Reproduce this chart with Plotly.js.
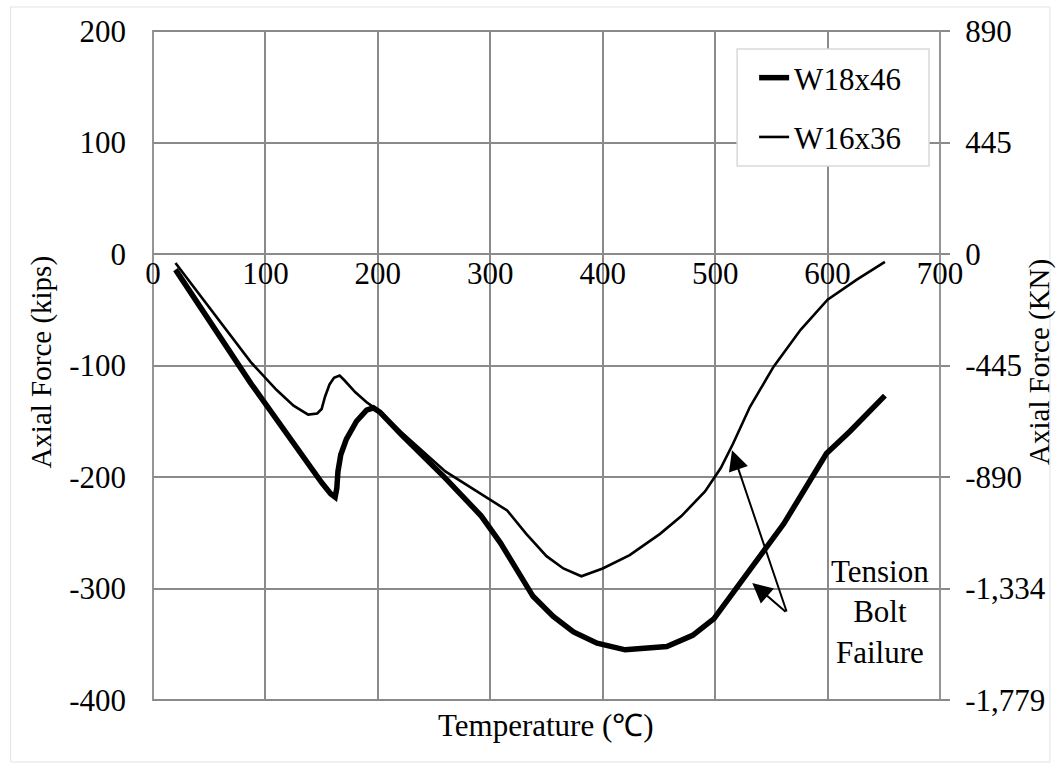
<!DOCTYPE html>
<html>
<head>
<meta charset="utf-8">
<script src="https://cdn.plot.ly/plotly-3.0.1.min.js"></script>
<style>
html,body{margin:0;padding:0;background:#fff;}
#chart{width:1059px;height:771px;}
</style>
</head>
<body>
<div id="chart"></div>
<script>
// ---- data ----
const seriesNames = ["W18x46", "W16x36"];

const w18Temp = [20, 87, 150, 158, 162, 163.5, 164.5, 167, 172, 181, 190, 196, 202, 220, 260, 292, 309, 338, 356, 374, 395, 420, 457, 480, 499, 525, 561, 599, 620, 651];
const w18Force = [-14, -116, -205, -215, -218, -210, -195, -180, -166, -150, -140, -138, -142, -161, -201, -235, -259, -307, -325, -339, -349, -355, -352, -342, -327, -292, -242, -179, -159, -127];

const w16Temp = [20, 87, 110, 125, 138, 146, 150, 153, 157, 161, 166, 170, 180, 190, 200, 220, 260, 300, 315, 332, 350, 365, 381, 400, 424, 451, 470, 491, 505, 516, 531, 552, 576, 600, 626, 651];
const w16Force = [-8, -97, -122, -136, -144, -143, -139, -128, -117, -111, -109, -113, -124, -133, -140, -159, -195, -221, -230, -251, -271, -282, -289, -282, -270, -251, -235, -213, -192, -170, -137, -101, -68, -41, -23, -7];

const xTicks = [0, 100, 200, 300, 400, 500, 600, 700];
const xTickText = ["0", "100", "200", "300", "400", "500", "600", "700"];
const yTicks = [200, 100, 0, -100, -200, -300, -400];
const yTickText = ["200", "100", "0", "-100", "-200", "-300", "-400"];
const kipToKN = 4.44822;
const kNTickText = ["890", "445", "0", "-445", "-890", "-1,334", "-1,779"];

const noteText = "Tension<br>Bolt<br>Failure";
const noteAnchor = [647, -321];
const arrowTail = [564, -322];
const arrowHeads = [[515, -176], [533, -295]];

// ---- layout helpers ----
const FONT = "Liberation Serif";
const FS = 31;
const gridColor = "#8a8a8a";
const W = 1059, H = 771;
const mL = 152.5, mR = 119, mT = 31, mB = 71;
const pw = W - mL - mR, ph = H - mT - mB;
const px2paperX = p => (p - mL) / pw;
const px2paperY = p => (H - mB - p) / ph;
const txtFont = {family: FONT, size: FS, color: "#000"};
const vFont = {family: FONT, size: 29, color: "#000"};

const traces = [
  {x: w18Temp, y: w18Force, name: seriesNames[0], mode: "lines", type: "scatter",
   line: {color: "#000", width: 5.5}, legendgroup: "a", hoverinfo: "skip"},
  {x: w16Temp, y: w16Force, name: seriesNames[1], mode: "lines", type: "scatter",
   line: {color: "#000", width: 2.6}, legendgroup: "b", hoverinfo: "skip"},
  {x: [xTicks[0]], y: [yTicks[2] * kipToKN], yaxis: "y2", mode: "markers", type: "scatter",
   marker: {opacity: 0}, showlegend: false, hoverinfo: "skip"}
];

const annotations = [
  {text: noteText, x: noteAnchor[0], y: noteAnchor[1], xref: "x", yref: "y",
   xanchor: "center", yanchor: "middle",
   showarrow: false, font: txtFont, align: "center"},
  {text: "Temperature (℃)", xref: "paper", yref: "paper", x: px2paperX(546), y: px2paperY(725),
   xanchor: "center", yanchor: "middle",
   showarrow: false, font: txtFont},
  {text: "Axial Force (kips)", xref: "paper", yref: "paper", x: px2paperX(41), y: px2paperY(362),
   xanchor: "center", yanchor: "middle",
   textangle: -90, showarrow: false, font: vFont},
  {text: "Axial Force (KN)", xref: "paper", yref: "paper", x: px2paperX(1040), y: px2paperY(362),
   xanchor: "center", yanchor: "middle",
   textangle: -90, showarrow: false, font: vFont}
];
arrowHeads.forEach(h => annotations.push({
  text: "", x: h[0], y: h[1], xref: "x", yref: "y",
  ax: arrowTail[0], ay: arrowTail[1], axref: "x", ayref: "y",
  showarrow: true, arrowhead: 2, arrowsize: 2, arrowwidth: 2, arrowcolor: "#000"
}));

const layout = {
  width: W, height: H,
  margin: {l: mL, r: mR, t: mT, b: mB, pad: 0},
  paper_bgcolor: "#fff", plot_bgcolor: "#fff",
  font: txtFont,
  showlegend: true,
  legend: {x: px2paperX(754), y: px2paperY(51), xanchor: "left", yanchor: "top",
           bgcolor: "rgba(0,0,0,0)", borderwidth: 0,
           font: txtFont,
           tracegroupgap: 16, traceorder: "grouped"},
  xaxis: {range: [0, 700], tickvals: xTicks, ticktext: xTickText,
          anchor: "free", position: (0 - (-400)) / 600,
          showgrid: true, gridcolor: gridColor, gridwidth: 1.8,
          zeroline: false, showline: false, ticks: "", ticklabelstandoff: -2,
          tickfont: txtFont, fixedrange: true},
  yaxis: {range: [-400, 200], tickvals: yTicks, ticktext: yTickText,
          showgrid: true, gridcolor: gridColor, gridwidth: 1.8,
          zeroline: false, showline: false, ticks: "", ticklabelstandoff: 26,
          tickfont: txtFont, fixedrange: true},
  yaxis2: {overlaying: "y", side: "right", anchor: "x",
           range: [-400 * kipToKN, 200 * kipToKN],
           tickvals: yTicks.map(v => v * kipToKN), ticktext: kNTickText,
           showgrid: false, zeroline: false, showline: false,
           ticks: "outside", ticklen: 9, tickwidth: 1.8, tickcolor: gridColor,
           ticklabelstandoff: 9,
           tickfont: txtFont, fixedrange: true},
  shapes: [
    {type: "rect", xref: "paper", yref: "paper", x0: 0, x1: 1, y0: 0, y1: 1,
     line: {color: gridColor, width: 1.8}, layer: "below"},
    {type: "rect", xref: "paper", yref: "paper",
     x0: px2paperX(10), x1: px2paperX(1050), y0: px2paperY(762), y1: px2paperY(7),
     line: {color: "#e3e3e3", width: 1}, layer: "below"},
    {type: "rect", xref: "paper", yref: "paper",
     x0: px2paperX(737), x1: px2paperX(929), y0: px2paperY(166), y1: px2paperY(49),
     fillcolor: "#fff", line: {color: "#d9d9d9", width: 1.5}, layer: "above"}
  ],
  annotations: annotations
};

Plotly.newPlot("chart", traces, layout, {displayModeBar: false});
</script>
</body>
</html>
